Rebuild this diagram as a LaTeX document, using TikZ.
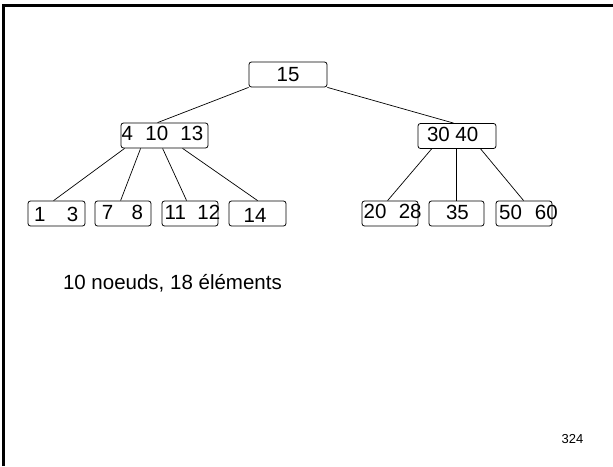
\documentclass[tikz,border=0pt]{standalone}
\usepackage{fontspec}
\setmainfont{Liberation Sans}
\begin{document}
\begin{tikzpicture}[x=1pt,y=-1pt,
  keybox/.style={draw, rounded corners=2.5pt, line width=0.8pt, inner sep=0pt,
                 minimum height=25pt, font=\fontsize{20.5}{24}\selectfont},
  keys/.style={anchor=base west, inner sep=0pt, font=\fontsize{20.5}{24}\selectfont},
  link/.style={line width=0.7pt},
  caption/.style={anchor=base west, inner sep=0pt}]
\useasboundingbox (0,0) rectangle (613,466);
% frame
\draw[line width=3.3pt] (3.4,466) -- (3.4,5.7) -- (613,5.7);

% root
\node[keybox, minimum width=78pt] (root) at (288,74.5) {15};

% second level
\node[keybox, minimum width=87pt] (na) at (164.5,135.5) {};
\node[keybox, minimum width=78pt] (nb) at (457,136) {};
\node[keys] (ta) at (121.5,140.5) {4\hspace{0.6em}10\hspace{0.6em}13};
\node[keys] (tb) at (426.8,141.5) {30 40};

% leaves
\node[keybox, minimum width=57pt] (l1) at (56.5,213.5) {};
\node[keybox, minimum width=56pt] (l2) at (123,213.5) {};
\node[keybox, minimum width=56pt] (l3) at (190,213.5) {};
\node[keybox, minimum width=57pt] (l4) at (257.5,213.5) {};
\node[keybox, minimum width=56pt] (r1) at (390,213.5) {};
\node[keybox, minimum width=55pt] (r2) at (456.5,213.5) {};
\node[keybox, minimum width=56pt] (r3) at (524,213.5) {};

\node[keys] (t1) at (33.8,221) {1\hspace{1.05em}3};
\node[keys] (t2) at (101.7,219.5) {7\hspace{0.9em}8};
\node[keys] (t3) at (164.5,219.5) {11\hspace{0.56em}12};
\node[keys] (t4) at (243.5,222) {14};
\node[keys] (t5) at (363.5,218) {20\hspace{0.6em}28};
\node[keys] (t6) at (445.8,219.5) {35};
\node[keys] (t7) at (499,219.5) {50\hspace{0.63em}60};

% links
\draw[link] (root.south west) -- ([xshift=37pt]na.north west);
\draw[link] (root.south east) -- ([xshift=36pt]nb.north west);

\draw[link] ([xshift=4pt]na.south west)  -- ([xshift=26pt]l1.north west);
\draw[link] ([xshift=20pt]na.south west) -- ([xshift=26pt]l2.north west);
\draw[link] ([xshift=42pt]na.south west) -- ([xshift=25pt]l3.north west);
\draw[link] ([xshift=62pt]na.south west) -- ([xshift=29pt]l4.north west);

\draw[link] ([xshift=14pt]nb.south west) -- ([xshift=26pt]r1.north west);
\draw[link] ([xshift=39pt]nb.south west) -- ([xshift=28pt]r2.north west);
\draw[link] ([xshift=63pt]nb.south west) -- ([xshift=28pt]r3.north west);

% captions
\node[caption, font=\fontsize{20.5}{24}\selectfont] (summary) at (62.8,289) {10 noeuds, 18 éléments};
\node[caption, font=\fontsize{13}{16}\selectfont] (page) at (561.5,443) {324};
\end{tikzpicture}
\end{document}
